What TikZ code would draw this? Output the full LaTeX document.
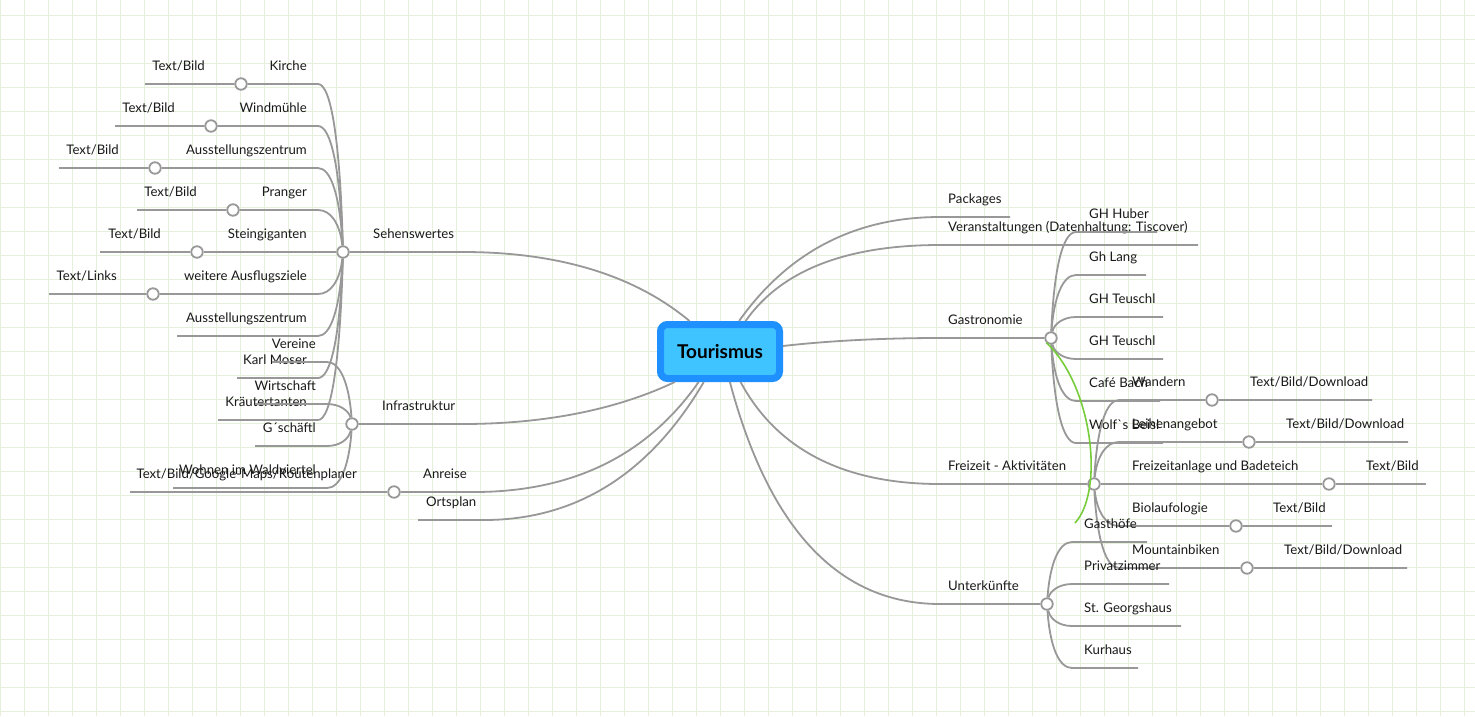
\documentclass[tikz,border=0pt]{standalone}
\usepackage{fontspec}
\setmainfont{Lato}
\usepackage{tikz}
\definecolor{gridgreen}{RGB}{230,239,220}
\definecolor{linegray}{RGB}{152,152,152}
\definecolor{rootblue}{RGB}{30,144,255}
\definecolor{rootfill}{RGB}{64,196,255}
\definecolor{relgreen}{RGB}{118,204,58}
\tikzset{
    gridline/.style={draw=gridgreen, line width=0.9pt},
    branch/.style={draw=linegray, line width=1.8pt},
    relation/.style={draw=relgreen, line width=1.6pt},
    hub/.style={circle, draw=linegray, line width=1.8pt, fill=white,
        minimum size=11.5pt, inner sep=0pt},
    topic/.style={font=\fontsize{13.2}{15}\selectfont, text=black!90, inner sep=0pt},
    roottopic/.style={rectangle, rounded corners=7pt, draw=rootblue,
        line width=7pt, fill=rootfill, minimum width=119pt, minimum height=54pt,
        font=\fontsize{19}{22}\selectfont\bfseries, text=black}
}

\begin{document}
\begin{tikzpicture}[x=1pt,y=-1pt]
	\useasboundingbox (0,0) rectangle (1475,716);
	\fill[white] (0,0) rectangle (1475,716);
	\foreach \gx in {0,24,...,1464} \draw[gridline] (\gx,0) -- (\gx,716);
	\foreach \gy in {15,39,...,711} \draw[gridline] (0,\gy) -- (1475,\gy);

	% central topic
	\node[roottopic] (root) at (720,351.5) {Tourismus};

	% main hubs
	\node[hub] (seh) at (343,252) {};
	\node[hub] (inf) at (352,424) {};
	\node[hub] (anr) at (394,492) {};
	\coordinate (ort-e) at (418,520);
	\coordinate (pac-e) at (1010,217);
	\coordinate (ver-e) at (1198,245);
	\node[hub] (gas) at (1051,338) {};
	\node[hub] (frz) at (1094,484) {};
	\node[hub] (unt) at (1047,604) {};

	% main branches
	\draw[branch] (seh) -- (463,252) .. controls +(95,0) and +(-55,-46) .. (root.135);
	\draw[branch] (inf) -- (462,424) .. controls +(82,0) and +(-59,28) .. (root.-146);
	\draw[branch] (anr) -- (474,492) .. controls +(99,0) and +(-51,73) .. (root.-125);
	\draw[branch] (ort-e) -- (484,520) .. controls +(92,0) and +(-54,92) .. (root.-118);
	\draw[branch] (root.58) .. controls +(49,-69) and +(-85,0) .. (940,217) -- (pac-e);
	\draw[branch] (root.50) .. controls +(35,-50) and +(-95,0) .. (940,245) -- (ver-e);
	\draw[branch] (root.5) .. controls +(44,-5) and +(-60,0) .. (940,338) -- (gas);
	\draw[branch] (root.-56) .. controls +(36,67) and +(-97,0) .. (940,484) -- (frz);
	\draw[branch] (root.-72) .. controls +(39,147) and +(-101,0) .. (940,604) -- (unt);

	\node[topic, anchor=base west] (seh-t) at (373,238) {Sehenswertes};
	\node[topic, anchor=base west] (inf-t) at (382,410) {Infrastruktur};
	\node[topic, anchor=base west] (anr-t) at (423,478) {Anreise};
	\node[topic, anchor=base west] (ort-t) at (426,506) {Ortsplan};
	\node[topic, anchor=base west] (pac-t) at (948,203) {Packages};
	\node[topic, anchor=base west] (ver-t) at (948,231) {Veranstaltungen (Datenhaltung: Tiscover)};
	\node[topic, anchor=base west] (gas-t) at (948,324) {Gastronomie};
	\node[topic, anchor=base west] (frz-t) at (948,470) {Freizeit - Aktivitäten};
	\node[topic, anchor=base west] (unt-t) at (948,590) {Unterkünfte};

	% Sehenswertes
	\node[hub] (kir) at (241,84) {};
	\node[hub] (wnd) at (211,126) {};
	\node[hub] (aus) at (155,168) {};
	\node[hub] (pra) at (233,210) {};
	\node[hub] (stg) at (197,252) {};
	\node[hub] (wei) at (153,294) {};
	\coordinate (kir-e) at (145,84);
	\coordinate (wnd-e) at (115,126);
	\coordinate (aus-e) at (59,168);
	\coordinate (pra-e) at (137,210);
	\coordinate (stg-e) at (100,252);
	\coordinate (wei-e) at (49,294);
	\coordinate (az2-e) at (177,336);
	\coordinate (kms-e) at (237,378);
	\coordinate (krt-e) at (218,420);
	\draw[branch] (seh) .. controls +(-3,-112) and +(13,0) .. (318,84) -- (kir) -- (kir-e);
	\draw[branch] (seh) .. controls +(-3,-84) and +(13,0) .. (318,126) -- (wnd) -- (wnd-e);
	\draw[branch] (seh) .. controls +(-3,-56) and +(13,0) .. (318,168) -- (aus) -- (aus-e);
	\draw[branch] (seh) .. controls +(-3,-28) and +(13,0) .. (318,210) -- (pra) -- (pra-e);
	\draw[branch] (seh) -- (stg) -- (stg-e);
	\draw[branch] (seh) .. controls +(-3,28) and +(13,0) .. (318,294) -- (wei) -- (wei-e);
	\draw[branch] (seh) .. controls +(-3,56) and +(13,0) .. (318,336) -- (az2-e);
	\draw[branch] (seh) .. controls +(-3,84) and +(13,0) .. (318,378) -- (kms-e);
	\draw[branch] (seh) .. controls +(-3,112) and +(13,0) .. (318,420) -- (krt-e);
	\node[topic, anchor=base east] (kir-t) at (307,70) {Kirche};
	\node[topic, anchor=base east] (wnd-t) at (307,112) {Windmühle};
	\node[topic, anchor=base east] (aus-t) at (307,154) {Ausstellungszentrum};
	\node[topic, anchor=base east] (pra-t) at (307,196) {Pranger};
	\node[topic, anchor=base east] (stg-t) at (307,238) {Steingiganten};
	\node[topic, anchor=base east] (wei-t) at (307,280) {weitere Ausflugsziele};
	\node[topic, anchor=base east] (az2-t) at (307,322) {Ausstellungszentrum};
	\node[topic, anchor=base east] (kms-t) at (307,364) {Karl Moser};
	\node[topic, anchor=base east] (krt-t) at (307,406) {Kräutertanten};
	\node[topic, anchor=base east] at (205,70) {Text/Bild};
	\node[topic, anchor=base east] at (175,112) {Text/Bild};
	\node[topic, anchor=base east] at (119,154) {Text/Bild};
	\node[topic, anchor=base east] at (197,196) {Text/Bild};
	\node[topic, anchor=base east] at (161,238) {Text/Bild};
	\node[topic, anchor=base east] at (117,280) {Text/Links};

	% Infrastruktur
	\coordinate (vrn-e) at (272,362);
	\coordinate (wsc-e) at (255,404);
	\coordinate (gsc-e) at (255,446);
	\coordinate (wvt-e) at (173,488);
	\draw[branch] (inf) .. controls +(-3,-41) and +(13,0) .. (327,362) -- (vrn-e);
	\draw[branch] (inf) .. controls +(-3,-13) and +(13,0) .. (327,404) -- (wsc-e);
	\draw[branch] (inf) .. controls +(-3,15) and +(13,0) .. (327,446) -- (gsc-e);
	\draw[branch] (inf) .. controls +(-3,43) and +(13,0) .. (327,488) -- (wvt-e);
	\node[topic, anchor=base east] (vrn-t) at (316,348) {Vereine};
	\node[topic, anchor=base east] (wsc-t) at (316,390) {Wirtschaft};
	\node[topic, anchor=base east] (gsc-t) at (316,432) {G´schäftl};
	\node[topic, anchor=base east] (wvt-t) at (316,474) {Wohnen im Waldviertel};

	% Anreise
	\coordinate (anr-e) at (130,492);
	\draw[branch] (anr) -- (anr-e);
	\node[topic, anchor=base east] at (357,478) {Text/Bild/Google-Maps/Routenplaner};

	% Gastronomie
	\coordinate (hub-e) at (1157,232);
	\coordinate (lng-e) at (1146,275);
	\coordinate (te1-e) at (1163,317);
	\coordinate (te2-e) at (1163,359);
	\coordinate (bch-e) at (1160,401);
	\coordinate (wlf-e) at (1163,443);
	\draw[branch] (gas) .. controls +(3,-71) and +(-13,0) .. (1076,232) -- (hub-e);
	\draw[branch] (gas) .. controls +(3,-42) and +(-13,0) .. (1076,275) -- (lng-e);
	\draw[branch] (gas) .. controls +(3,-14) and +(-13,0) .. (1076,317) -- (te1-e);
	\draw[branch] (gas) .. controls +(3,14) and +(-13,0) .. (1076,359) -- (te2-e);
	\draw[branch] (gas) .. controls +(3,42) and +(-13,0) .. (1076,401) -- (bch-e);
	\draw[branch] (gas) .. controls +(3,70) and +(-13,0) .. (1076,443) -- (wlf-e);
	\node[topic, anchor=base west] at (1089,218) {GH Huber};
	\node[topic, anchor=base west] at (1089,261) {Gh Lang};
	\node[topic, anchor=base west] at (1089,303) {GH Teuschl};
	\node[topic, anchor=base west] at (1089,345) {GH Teuschl};
	\node[topic, anchor=base west] at (1089,387) {Café Bach};
	\node[topic, anchor=base west] at (1089,429) {Wolf\textasciigrave s Beisl};

	% Freizeit - Aktivitaeten
	\node[hub] (wan) at (1212,400) {};
	\node[hub] (lei) at (1249,442) {};
	\node[hub] (fba) at (1329,484) {};
	\node[hub] (bio) at (1236,526) {};
	\node[hub] (mtb) at (1247,568) {};
	\coordinate (wan-e) at (1372,400);
	\coordinate (lei-e) at (1408,442);
	\coordinate (fba-e) at (1426,484);
	\coordinate (bio-e) at (1332,526);
	\coordinate (mtb-e) at (1407,568);
	\draw[branch] (frz) .. controls +(3,-56) and +(-13,0) .. (1119,400) -- (wan) -- (wan-e);
	\draw[branch] (frz) .. controls +(3,-28) and +(-13,0) .. (1119,442) -- (lei) -- (lei-e);
	\draw[branch] (frz) -- (fba) -- (fba-e);
	\draw[branch] (frz) .. controls +(3,28) and +(-13,0) .. (1119,526) -- (bio) -- (bio-e);
	\draw[branch] (frz) .. controls +(3,56) and +(-13,0) .. (1119,568) -- (mtb) -- (mtb-e);
	\node[topic, anchor=base west] at (1132,386) {Wandern};
	\node[topic, anchor=base west] at (1132,428) {Leihenangebot};
	\node[topic, anchor=base west] at (1132,470) {Freizeitanlage und Badeteich};
	\node[topic, anchor=base west] at (1132,512) {Biolaufologie};
	\node[topic, anchor=base west] at (1132,554) {Mountainbiken};
	\node[topic, anchor=base west] at (1250,386) {Text/Bild/Download};
	\node[topic, anchor=base west] at (1286,428) {Text/Bild/Download};
	\node[topic, anchor=base west] at (1366,470) {Text/Bild};
	\node[topic, anchor=base west] at (1273,512) {Text/Bild};
	\node[topic, anchor=base west] at (1284,554) {Text/Bild/Download};

	% Unterkuenfte
	\coordinate (ghf-e) at (1147,542);
	\coordinate (pzi-e) at (1169,584);
	\coordinate (sgh-e) at (1181,626);
	\coordinate (khs-e) at (1138,668);
	\draw[branch] (unt) .. controls +(3,-41) and +(-13,0) .. (1072,542) -- (ghf-e);
	\draw[branch] (unt) .. controls +(3,-13) and +(-13,0) .. (1072,584) -- (pzi-e);
	\draw[branch] (unt) .. controls +(3,15) and +(-13,0) .. (1072,626) -- (sgh-e);
	\draw[branch] (unt) .. controls +(3,43) and +(-13,0) .. (1072,668) -- (khs-e);
	\node[topic, anchor=base west] (ghf-t) at (1084,528) {Gasthöfe};
	\node[topic, anchor=base west] at (1084,570) {Privatzimmer};
	\node[topic, anchor=base west] at (1084,612) {St. Georgshaus};
	\node[topic, anchor=base west] at (1084,654) {Kurhaus};

	% relationship
	\coordinate (rel-e) at (1075,523);
	\draw[relation] (gas.south west) .. controls (1092,385) and (1105,490) .. (rel-e);
\end{tikzpicture}
\end{document}
